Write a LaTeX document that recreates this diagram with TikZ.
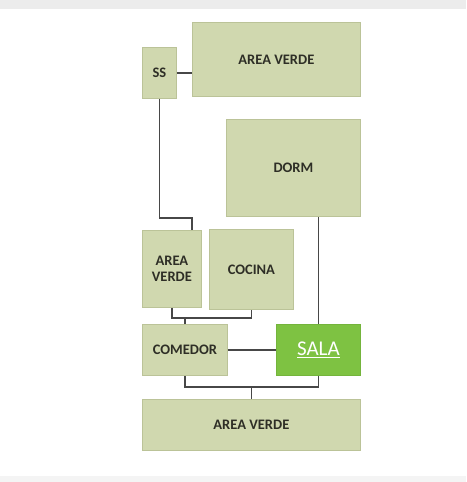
\documentclass[tikz,border=0pt]{standalone}
\usepackage{fontspec}
\setmainfont{Carlito}
\usepackage{xcolor}
\usetikzlibrary{calc}
\definecolor{planSage}{HTML}{D0D8AF}
\definecolor{planSageEdge}{HTML}{BBC398}
\definecolor{planGreen}{HTML}{7EC242}
\definecolor{planGreenEdge}{HTML}{74B43C}
\definecolor{planLine}{HTML}{474747}
\definecolor{planInk}{HTML}{2E2E26}
\definecolor{planBand}{HTML}{ECECEC}

\begin{document}
\begin{tikzpicture}[x=1pt,y=-1pt,
  room/.style={draw=planSageEdge,fill=planSage,line width=0.8pt,inner sep=0pt,
    anchor=north west,align=center,text=planInk,font=\fontsize{14.5}{16.5}\selectfont\bfseries},
  roomhi/.style={room,draw=planGreenEdge,fill=planGreen,text=white,
    font=\fontsize{21}{23}\selectfont},
  conn/.style={draw=planLine,line width=1.2pt}]
\useasboundingbox (0,0) rectangle (466,482);
\fill[white] (0,0) rectangle (466,482);
\fill[planBand] (0,0) rectangle (466,9);
\fill[planBand!60] (0,476) rectangle (466,482);
\newcommand{\roombox}[7]{%
  \node[#7,minimum width=#4pt,minimum height=#5pt] (#1) at (#2,#3) {#6};
}
\roombox{ss}{142}{47}{34}{51}{SS}{room}
\roombox{avTop}{192}{22}{168}{74}{AREA VERDE}{room}
\roombox{dorm}{226}{119}{134}{97}{DORM}{room}
\roombox{avMid}{142}{230}{59}{77}{AREA\\VERDE}{room}
\roombox{cocina}{209}{229}{84}{80}{COCINA}{room}
\roombox{comedor}{142}{324}{85}{51}{COMEDOR}{room}
\roombox{sala}{276}{324}{84}{51}{\underline{SALA}}{roomhi}
\roombox{avBot}{142}{399}{218}{51}{AREA VERDE}{room}
% junctions
\coordinate (jSS) at (192,218);
\coordinate (jMid) at (200,318);
\coordinate (jBot) at (250,387);
% connectors
\draw[conn] (ss.east) -- (avTop.west |- ss.east);
\draw[conn] (ss.south) |- (jSS) -- (jSS |- avMid.north);
\draw[conn] (avMid.south) |- (jMid) -| (cocina.south);
\draw[conn] (comedor.north) -- (comedor.north |- jMid);
\draw[conn] (sala.north) -- (sala.north |- dorm.south);
\draw[conn] (comedor.east) -- (sala.west);
\draw[conn] (comedor.south) |- (jBot) -| (sala.south);
\draw[conn] (avBot.north) -- (avBot.north |- jBot);
\end{tikzpicture}
\end{document}
